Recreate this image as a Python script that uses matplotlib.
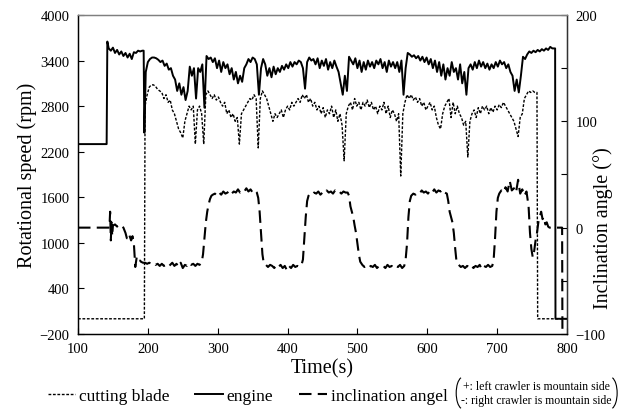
import numpy as np
import matplotlib.pyplot as plt
from matplotlib.ticker import MultipleLocator
from matplotlib.patches import Arc

plt.rcParams["font.family"] = ["Liberation Serif", "DejaVu Serif"]

# ---- engine speed (rpm) ----
engine_t0 = [100, 141, 142, 144, 147, 150, 153, 156, 159, 162, 165, 168, 171, 174,
             177, 180, 183, 186, 189, 192, 194, 195, 197]
engine_v0 = [2300, 2300, 3650, 3560, 3530, 3570, 3500, 3540, 3480, 3520, 3460, 3500,
             3440, 3490, 3420, 3510, 3500, 3530, 3520, 3530, 3530, 2450, 3250]
# sampled every 3 s from t=200
engine_v1 = [3380, 3420, 3440, 3440, 3430, 3410,
             3380, 3400, 3330, 3360, 3280, 3300, 3200,
             3150, 3000, 3100, 2950, 3050, 2880, 3000,
             3320, 3200, 3300, 2900, 3300, 3250, 3350, 2780, 3460,
             3420, 3440, 3380, 3430, 3300, 3400, 3250, 3380, 3300, 3350, 3220, 3300, 3150, 3250, 3100,
             3200, 3120, 3300, 3350, 3420, 3380, 3440, 3420, 3350, 2950, 3300, 3420,
             3350, 3200, 3300, 3180, 3320, 3220, 3300, 3250, 3330, 3280, 3350, 3300, 3380, 3320,
             3380, 3350, 3400, 3380, 3300, 3030, 3380, 3440,
             3400, 3420, 3350, 3430, 3300, 3400, 3330, 3420, 3280, 3380, 3300, 3400, 3320, 3250, 3100,
             2950, 3200, 3000, 3450,
             3400, 3350, 3430, 3300, 3400, 3250, 3380, 3280, 3400, 3320, 3380, 3300, 3400, 3350,
             3420, 3300, 3380, 3250, 3400, 3320, 3380, 3300, 3380, 3250, 3400, 2950, 3300, 3500,
             3480, 3450, 3470, 3430, 3460, 3400, 3450, 3380, 3440, 3350, 3420, 3300, 3400, 3250,
             3380, 3200,
             3350, 3150, 3300, 3200, 3380, 3250, 3300, 3150, 3350, 3100, 3250, 2950, 3300,
             3350, 3280, 3380, 3300, 3400, 3320, 3380, 3300, 3360, 3280, 3350, 3300, 3380, 3320,
             3400, 3350, 3380, 3300, 3350, 3250,
             3200, 3000, 3150, 2980, 3200, 3450, 3420,
             3480, 3520, 3500, 3530, 3510, 3540, 3520, 3550, 3530, 3560, 3540, 3580, 3560]
engine_t2 = [783, 783.5, 800]
engine_v2 = [3560, 0, 0]

# ---- cutting blade speed (rpm) ----
blade_t0 = [100, 195, 196]
blade_v0 = [0, 0, 2800]
# sampled every 3 s from t=199
blade_v1 = [2950, 3050, 3080, 3080, 3060, 3020, 3000, 2980, 2900, 2950, 2850, 2880, 2750,
            2700, 2600, 2500, 2450, 2380, 2600, 2700, 2800, 2750, 2800, 2300, 2750, 2800,
            2700, 2300, 2950, 3000, 2950, 2900, 2950, 2880, 2920, 2850, 2800, 2850, 2700,
            2750, 2650, 2700, 2600, 2650, 2300, 2700, 2750, 2800, 2850, 2900, 2880, 2950,
            2900, 2250, 2900, 3000, 2950, 2900, 2800, 2700, 2600, 2700, 2650, 2700, 2750,
            2650, 2750, 2800, 2750, 2850, 2800, 2850, 2900, 2850, 2950, 2900, 2950, 2850,
            2900, 2800, 2850, 2750, 2800, 2700, 2780, 2650, 2750, 2700, 2800, 2650, 2750,
            2600, 2700, 2550, 2080, 2700, 2800, 2850, 2750, 2900, 2800, 2850, 2750, 2850,
            2800, 2880, 2780, 2850, 2750, 2800, 2700, 2800, 2750, 2850, 2700, 2800, 2650,
            2750, 2700, 2600, 2700, 1880, 2700, 2850, 2950, 2900, 2950, 2880, 2920, 2850,
            2900, 2800, 2850, 2750, 2800, 2850, 2750, 2800, 2650, 2550, 2500, 2700, 2800,
            2850, 2900, 2650, 2850, 2700, 2800, 2700, 2650, 2550, 2600, 2130, 2600, 2700,
            2750, 2650, 2780, 2700, 2800, 2750, 2800, 2700, 2780, 2720, 2800, 2750, 2820,
            2780, 2850, 2800, 2750, 2700, 2650, 2600, 2500, 2400, 2650, 2700, 2900, 2950,
            3000, 2980, 3000, 2980, 2980]
blade_t2 = [758, 800]
blade_v2 = [0, 0]

# ---- inclination angle (deg) ----
incl_t = [100, 145, 146, 147, 148, 149, 150, 153, 156, 159, 162, 165, 168, 170, 173, 176,
          178, 180, 182, 184, 186, 189,
          190, 193, 196, 199, 202, 205, 208, 211, 214, 217, 220, 223, 226, 229, 232, 235,
          238, 241, 244, 247, 250, 253, 256, 259, 262, 265, 268, 271, 274, 277,
          279, 281, 283, 285, 287, 289, 291, 293, 296, 299, 302, 305, 308, 311, 314, 317,
          320, 323, 326, 329, 332, 335, 338, 341, 344, 347, 350, 353, 356,
          358, 360, 362, 364, 366, 369, 372, 375, 378, 381, 384, 387, 390, 393, 396, 399,
          402, 405, 408, 411, 414, 417, 420,
          422, 424, 426, 428, 430, 432, 435, 438, 441, 444, 447, 450, 453, 456, 459, 462,
          465, 468, 471, 474, 477, 480, 483, 486,
          488, 490, 492, 494, 496, 498, 500, 502, 504, 507, 510, 513, 516, 519, 522, 525,
          528, 531, 534, 537, 540, 543, 546, 549, 552, 555, 558, 561, 564, 567,
          569, 571, 573, 575, 577, 580, 583, 586, 589, 592, 595, 598, 601, 604, 607, 610,
          613, 616, 619, 622, 625, 628,
          630, 632, 634, 636, 638, 640, 642, 645, 648, 651, 654, 657, 660, 663, 666, 669,
          672, 675, 678, 681, 684, 687, 690, 693,
          695, 697, 699, 701, 703, 706, 709, 712, 715, 718, 721, 724, 727, 730, 733, 736,
          739, 742,
          745, 747, 749, 751, 753, 755, 757, 759, 761, 763, 765, 767, 769, 771, 773, 775,
          793, 793.5]
incl_v = [0, 0, 15, -12, 5, -8, 2, 3, 1, 3, 2, 0, -5, -10, -6, -12,
          -8, -15, -37, -28, -32, -31,
          -32, -33, -33, -34, -33, -34, -33, -35, -34, -36, -34, -36, -35, -37, -35, -33,
          -36, -34, -37, -33, -38, -35, -36, -33, -35, -34, -36, -34, -35, -33,
          -25, -10, 5, 15, 22, 27, 30, 31, 32, 30, 33, 31, 34, 32, 33, 35,
          32, 34, 33, 36, 33, 35, 34, 37, 34, 36, 33, 35, 33,
          28, 15, -5, -25, -34, -35, -37, -35, -36, -38, -35, -37, -35, -38, -36, -40,
          -36, -38, -35, -37, -36, -37, -35,
          -30, -10, 10, 25, 30, 32, 31, 33, 32, 34, 31, 33, 32, 35, 33, 34,
          32, 35, 33, 34, 32, 34, 33, 33,
          30, 20, 15, 10, 2, -5, -15, -25, -32, -35, -37, -36, -38, -36, -37, -35,
          -38, -36, -37, -36, -38, -35, -37, -36, -38, -36, -37, -35, -38, -36,
          -30, -15, 10, 25, 30, 32, 31, 33, 32, 35, 33, 34, 32, 35, 33, 36,
          33, 35, 34, 36, 33, 32,
          25, 15, 10, 5, -5, -20, -33, -35, -37, -36, -38, -36, -37, -35, -38, -36,
          -37, -35, -39, -36, -37, -35, -37, -36,
          -30, -10, 15, 28, 32, 35, 33, 38, 34, 44, 35, 37, 33, 45, 32, 36,
          30, 34,
          20, -5, -20, -28, -22, -12, -5, 5, 10, 15, 8, 10, 3, 5, 1, 0,
          0, -110]

engine_t = engine_t0 + list(np.arange(200, 200 + 3 * len(engine_v1), 3)) + engine_t2
engine_v = engine_v0 + engine_v1 + engine_v2
blade_t = blade_t0 + list(np.arange(199, 199 + 3 * len(blade_v1), 3)) + blade_t2
blade_v = blade_v0 + blade_v1 + blade_v2

fig = plt.figure(figsize=(6.19, 4.10), dpi=100)
ax = fig.add_axes([0.126, 0.183, 0.790, 0.778])
ax2 = ax.twinx()

lb, = ax.plot(blade_t, blade_v, color="black", lw=1.0, dashes=(2, 1.2), label="cutting blade")
le, = ax.plot(engine_t, engine_v, color="black", lw=1.4, label="engine")
li, = ax2.plot(incl_t, incl_v, color="black", lw=1.5, dashes=(6, 3), label="inclination angel")

ax.set_xlim(100, 800)
ax.set_ylim(-200, 4000)
ax.set_yticks(np.arange(-200, 4001, 600))
ax.set_yticklabels(["\u2212200"] + [str(v) for v in range(400, 4001, 600)])
ax.set_xticks(np.arange(100, 801, 100))
ax2.set_ylim(-100, 200)
ax2.set_yticks([-100, 0, 100, 200])
ax2.set_yticklabels(["\u2212100", "0", "100", "200"])
ax2.yaxis.set_minor_locator(MultipleLocator(50))

for a in (ax, ax2):
    a.tick_params(direction="in", length=4, width=0.8, labelsize=10.5, pad=6)
    a.tick_params(which="minor", direction="in", length=4, width=0.8)
    for s in a.spines.values():
        s.set_linewidth(0.9)
ax.spines["top"].set_color("#7f7f7f")
ax2.spines["top"].set_color("#7f7f7f")
ax2.spines["right"].set_color("#333333")

ax.set_xlabel("Time(s)", fontsize=14.5, labelpad=2)
ax.set_ylabel("Rotational speed (rpm)", fontsize=14.5, labelpad=2)
# right label placed by hand so it stays inside the figure
fig.text(0.975, 0.444, "Inclination angle (\u00b0)", rotation=90,
         ha="center", va="center", fontsize=14.5)

fig.legend(handles=[lb, le, li], loc="center", bbox_to_anchor=(0.40, 0.032), ncol=3,
           frameon=False, fontsize=12.5, handlelength=1.6, handletextpad=0.2, columnspacing=1.5)

fig.text(0.867, 0.039, "+: left crawler is mountain side\n-: right crawler is mountain side",
         ha="center", va="center", fontsize=8.5, linespacing=1.25)
fig.add_artist(Arc((0.748, 0.039), 0.022, 0.078, theta1=95, theta2=265,
                   transform=fig.transFigure, lw=0.8, color="black"))
fig.add_artist(Arc((0.986, 0.039), 0.022, 0.078, theta1=-85, theta2=85,
                   transform=fig.transFigure, lw=0.8, color="black"))

fig.savefig("out.png", dpi=100)
